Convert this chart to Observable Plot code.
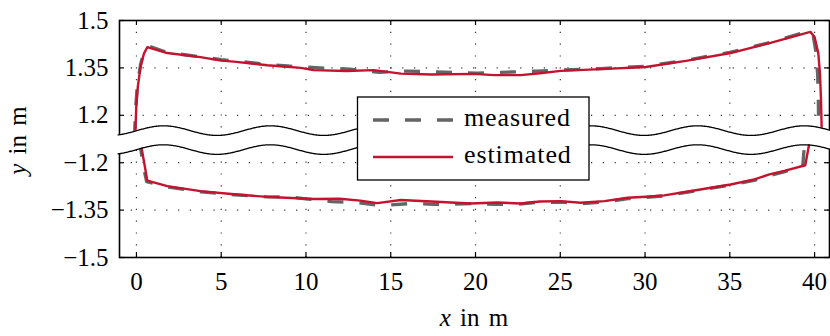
<!DOCTYPE html>
<html><head><meta charset="utf-8">
<script src="https://cdn.jsdelivr.net/npm/d3@7"></script>
<script src="https://cdn.jsdelivr.net/npm/@observablehq/plot@0.6"></script>
<style>
html,body{margin:0;padding:0;background:#fff;}
#wrap{position:relative;width:830px;height:336px;overflow:hidden;}
#wrap svg{display:block;}
#wrap svg text{font-family:"Liberation Serif","DejaVu Serif",serif !important;}
#legend{position:absolute;left:0;top:0;}
</style></head><body><div id="wrap"></div>
<script>
// ---------- data ----------
const xTicks = [0, 5, 10, 15, 20, 25, 30, 35, 40];
const yTickValues = [-1.5, -1.35, -1.2, 1.2, 1.35, 1.5];
const yTickLabels = ["\u22121.5", "\u22121.35", "\u22121.2", "1.2", "1.35", "1.5"];
const seriesNames = ["measured", "estimated"];
const seriesColors = ["#656565", "#c4122f"];

// estimated (red) – upper side of the loop
const estTopX = [-0.08, -0.01, 0.08, 0.24, 0.44, 0.64, 1.82, 3.78, 5.0, 5.75, 7.72, 8.5, 9.69, 10.45, 12.4, 14.0, 15.6, 17.4, 19.9, 21.1, 22.67, 23.8, 25.03, 27.39, 30.05, 32.5, 35.05, 37.4, 39.75, 40.0, 40.22, 40.32, 40.38, 40.43];
const estTopY = [1.13, 1.226, 1.29, 1.353, 1.395, 1.4155, 1.397, 1.384, 1.373, 1.37, 1.3585, 1.355, 1.35, 1.343, 1.34, 1.343, 1.332, 1.329, 1.331, 1.327, 1.327, 1.333, 1.3405, 1.346, 1.353, 1.373, 1.397, 1.429, 1.464, 1.448, 1.396, 1.33, 1.248, 1.13];
// estimated (red) – lower side of the loop
const estBotX = [0.22, 0.48, 0.64, 1.82, 3.78, 5.75, 7.7, 8.5, 10.45, 12.0, 13.2, 14.2, 15.6, 17.4, 19.7, 21.3, 22.67, 23.8, 25.03, 26.2, 27.6, 28.97, 30.05, 31.13, 32.9, 35.05, 36.45, 37.33, 38.22, 39.45, 39.72];
const estBotY = [-1.13, -1.207, -1.257, -1.274, -1.29, -1.30, -1.308, -1.31, -1.315, -1.314, -1.32, -1.328, -1.318, -1.323, -1.329, -1.326, -1.329, -1.323, -1.3215, -1.3266, -1.3215, -1.311, -1.3076, -1.3035, -1.288, -1.269, -1.253, -1.237, -1.226, -1.208, -1.13];
// measured (grey dashed) – upper side
const meaTopX = [-0.12, -0.04, 0.06, 0.24, 0.46, 0.68, 1.8, 3.8, 5.0, 6.0, 7.7, 8.9, 10.8, 12.6, 14.3, 16.0, 17.7, 20.1, 22.1, 23.6, 25.0, 27.4, 30.0, 32.5, 35.0, 37.4, 39.7, 39.92, 40.08, 40.18, 40.22, 40.25];
const meaTopY = [1.13, 1.23, 1.30, 1.36, 1.405, 1.42, 1.399, 1.385, 1.376, 1.371, 1.361, 1.356, 1.35, 1.346, 1.336, 1.34, 1.337, 1.333, 1.337, 1.34, 1.343, 1.348, 1.355, 1.375, 1.399, 1.431, 1.467, 1.452, 1.40, 1.33, 1.25, 1.13];
// measured (grey dashed) – lower side
const meaBotX = [0.18, 0.4, 0.6, 1.8, 3.8, 5.8, 7.7, 8.9, 10.1, 11.5, 13.0, 14.4, 16.2, 17.55, 18.5, 19.9, 21.1, 22.4, 23.5, 25.0, 26.2, 27.6, 29.0, 30.0, 31.1, 32.9, 35.0, 36.5, 37.3, 38.2, 39.3, 39.42];
const meaBotY = [-1.13, -1.21, -1.26, -1.277, -1.292, -1.302, -1.308, -1.308, -1.315, -1.323, -1.326, -1.336, -1.329, -1.332, -1.332, -1.329, -1.332, -1.332, -1.326, -1.325, -1.33, -1.324, -1.314, -1.31, -1.305, -1.29, -1.271, -1.255, -1.241, -1.229, -1.212, -1.13];

// ---------- broken y axis: fold both bands together ----------
const GAP = 1.125;
const fold = v => (v > 0 ? v - GAP : v + GAP);
const toRows = (xs, ys, series, part) => xs.map((x, i) => ({x, y: fold(ys[i]), series, part}));
const measuredRows = [...toRows(meaTopX, meaTopY, "measured", "top"), ...toRows(meaBotX, meaBotY, "measured", "bot")];
const estimatedRows = [...toRows(estTopX, estTopY, "estimated", "top"), ...toRows(estBotX, estBotY, "estimated", "bot")];

const yFold = yTickValues.map(fold);
const labelOf = new Map(yFold.map((v, i) => [v.toFixed(3), yTickLabels[i]]));
const xDom = [-1, 40.88];
const yDom = [fold(-1.5), fold(1.5)];

// break decoration (two wavy lines with white between)
const wavePeriod = 6.3, wavePhase = 1.6, waveAmp = 0.0152, waveHi = 0.0265, waveLo = -0.0335;
const wave = d3.range(-1.08, 41.0, 0.05).map(x => {
  const c = Math.cos(2 * Math.PI * (x - wavePhase) / wavePeriod) * waveAmp;
  return {x, hi: waveHi + c, lo: waveLo + c};
});

const FONT = "Liberation Serif, DejaVu Serif, serif";
const gridStyle = {stroke: "#000", strokeOpacity: 0.8, strokeWidth: 1.2, strokeDasharray: "1.2,10.6"};
const tickStyle = {stroke: "#000", strokeWidth: 1.2};

const plot = Plot.plot({
  width: 830, height: 336,
  marginLeft: 119, marginRight: 1, marginTop: 20, marginBottom: 79,
  style: {fontFamily: FONT, fontSize: "25px", background: "white", color: "black", overflow: "visible"},
  x: {domain: xDom},
  y: {domain: yDom},
  marks: [
    Plot.gridX(xTicks, gridStyle),
    Plot.gridY(yFold, gridStyle),
    Plot.ruleX(xTicks, {x: d => d, y1: yDom[0], y2: yDom[0], insetTop: -5, ...tickStyle}),
    Plot.ruleX(xTicks, {x: d => d, y1: yDom[1], y2: yDom[1], insetBottom: -5, ...tickStyle}),
    Plot.ruleY(yFold, {y: d => d, x1: xDom[0], x2: xDom[0], insetRight: -5, ...tickStyle}),
    Plot.ruleY(yFold, {y: d => d, x1: xDom[1], x2: xDom[1], insetLeft: -5, ...tickStyle}),
    Plot.axisX(xTicks, {tickSize: 0, tickPadding: 15, label: null, fontSize: 25}),
    Plot.axisY(yFold, {tickSize: 0, tickPadding: 11, label: null, fontSize: 25,
      tickFormat: d => labelOf.get((+d).toFixed(3))}),
    Plot.frame({stroke: "#000", strokeWidth: 1.6}),
    Plot.line(measuredRows, {x: "x", y: "y", z: "part", stroke: seriesColors[0], strokeWidth: 3.3,
      strokeDasharray: "16,16", strokeLinecap: "butt", strokeLinejoin: "round"}),
    Plot.line(estimatedRows, {x: "x", y: "y", z: "part", stroke: seriesColors[1], strokeWidth: 2.4,
      strokeLinejoin: "round"}),
    Plot.areaY(wave, {x: "x", y1: "lo", y2: "hi", fill: "white"}),
    Plot.line(wave, {x: "x", y: "hi", stroke: "#000", strokeWidth: 1.3}),
    Plot.line(wave, {x: "x", y: "lo", stroke: "#000", strokeWidth: 1.3})
  ]
});

const wrap = document.getElementById("wrap");
wrap.appendChild(plot);

// axis titles
const svg = d3.select(plot);
const xs = plot.scale("x"), ys = plot.scale("y");
const cx = (xs.apply(xDom[0]) + xs.apply(xDom[1])) / 2;
const cy = (ys.apply(yDom[0]) + ys.apply(yDom[1])) / 2;
const xt = svg.append("text").attr("x", cx).attr("y", 326).attr("text-anchor", "middle")
  .attr("font-size", 25).attr("fill", "#000").attr("word-spacing", 3);
xt.append("tspan").attr("font-style", "italic").text("x");
xt.append("tspan").text(" in m");
const yt = svg.append("text").attr("transform", `translate(26,${cy + 2}) rotate(-90)`).attr("text-anchor", "middle")
  .attr("font-size", 25).attr("fill", "#000").attr("word-spacing", 3);
yt.append("tspan").attr("font-style", "italic").text("y");
yt.append("tspan").text(" in m");

// legend (inside the plot, centred)
const lg = d3.select(wrap).append("svg").attr("id", "legend").attr("width", 830).attr("height", 336);
lg.append("rect").attr("x", 357.5).attr("y", 97).attr("width", 231.5).attr("height", 83)
  .attr("fill", "#fff").attr("stroke", "#000").attr("stroke-width", 1.3);
const rowsY = [120, 157];
seriesNames.forEach((name, i) => {
  lg.append("line").attr("x1", 373).attr("x2", 453).attr("y1", rowsY[i]).attr("y2", rowsY[i])
    .attr("stroke", seriesColors[i]).attr("stroke-width", i === 0 ? 3.3 : 2.6)
    .attr("stroke-dasharray", i === 0 ? "16,16" : null);
  lg.append("text").attr("x", 464).attr("y", rowsY[i] + 5.5)
    .attr("font-size", 26).attr("letter-spacing", 0.9).attr("fill", "#000").text(name);
});
</script></body></html>
